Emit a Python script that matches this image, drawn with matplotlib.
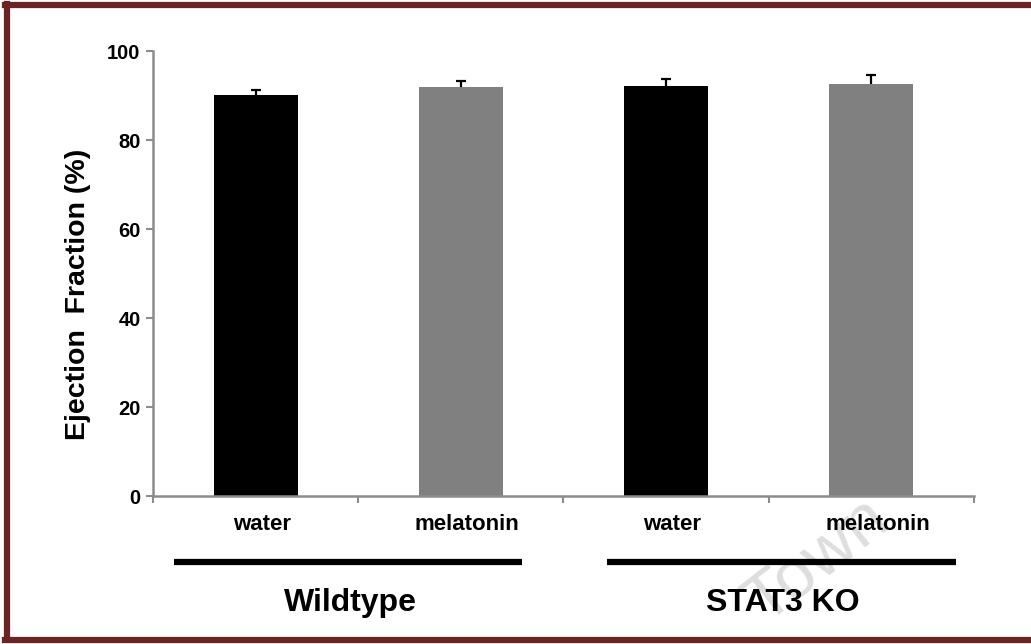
import numpy as np
import matplotlib
matplotlib.use("Agg")
from matplotlib import pyplot as plt
from matplotlib.lines import Line2D

plt.rcParams['font.family'] = ['Liberation Sans', 'DejaVu Sans']
plt.rcParams['font.weight'] = 'bold'

treatments = ['water', 'melatonin', 'water', 'melatonin']
groups = ['Wildtype', 'STAT3 KO']
group_spans = [(0.10, 1.80), (2.21, 3.91)]
ef_mean = [90.1, 92.0, 92.1, 92.6]
ef_err = [1.2, 1.3, 1.6, 2.1]
bar_colors = ['#000000', '#808080', '#000000', '#808080']
yticks = [0, 20, 40, 60, 80, 100]

fig = plt.figure(figsize=(10.31, 6.44), dpi=100)
ax = fig.add_axes([0.1484, 0.2298, 0.7963, 0.691])
ax.patch.set_visible(False)

x = np.arange(len(treatments)) + 0.5
# error bars sit behind the bars so only the upper half shows
ax.errorbar(x, ef_mean, yerr=ef_err, fmt='none', ecolor='black',
            elinewidth=1.6, capsize=3.3, capthick=1.6, zorder=1)
ax.bar(x, ef_mean, width=0.41, color=bar_colors, zorder=2)

ax.set_xlim(0, 4)
ax.set_ylim(0, 100)
ax.set_yticks(yticks)
ax.set_yticklabels([str(t) for t in yticks], fontsize=14.5, fontweight='bold')
ax.set_xticks([0, 1, 2, 3, 4])
ax.set_xticklabels([])
ax.tick_params(axis='both', direction='out', length=5, width=1.5, color='#8c8c8c')
ax.tick_params(axis='y', pad=4)
for side in ['top', 'right']:
    ax.spines[side].set_visible(False)
for side in ['left', 'bottom']:
    ax.spines[side].set_color('#8c8c8c')
    ax.spines[side].set_linewidth(1.8)

fig.text(0.0757, 1 - 294 / 644, 'Ejection  Fraction (%)', rotation=90,
         ha='center', va='center', fontsize=20.5, fontweight='bold')

# treatment names under each bar
tr = ax.get_xaxis_transform()
for xi, name in zip(x, treatments):
    ax.text(xi + 0.03, -0.065, name, transform=tr, ha='center', va='center',
            fontsize=16, fontweight='bold')

# group bars and group names
for gname, (x0, x1) in zip(groups, group_spans):
    ax.plot([x0, x1], [-0.148, -0.148], transform=tr, color='black',
            lw=4.5, solid_capstyle='butt', clip_on=False)
    ax.text((x0 + x1) / 2 + 0.01, -0.24, gname, transform=tr, ha='center',
            va='center', fontsize=23, fontweight='bold')

# watermark, kept underneath everything else
fig.text(0.792, 0.13, 'Town', rotation=38, fontsize=50, color='#dedede',
         fontweight='normal', ha='center', va='center', zorder=-1)

# frame around the figure (left, top, bottom)
fc = '#6b2424'
fig.add_artist(Line2D([0.0068, 0.0068], [0.0078, 0.9938], color=fc, lw=4.5,
                      transform=fig.transFigure))
fig.add_artist(Line2D([0.0045, 1.0], [0.9922, 0.9922], color=fc, lw=4.5,
                      transform=fig.transFigure))
fig.add_artist(Line2D([0.0045, 1.0], [0.0055, 0.0055], color=fc, lw=4.5,
                      transform=fig.transFigure))

fig.savefig('out.png', dpi=100, facecolor='white')
